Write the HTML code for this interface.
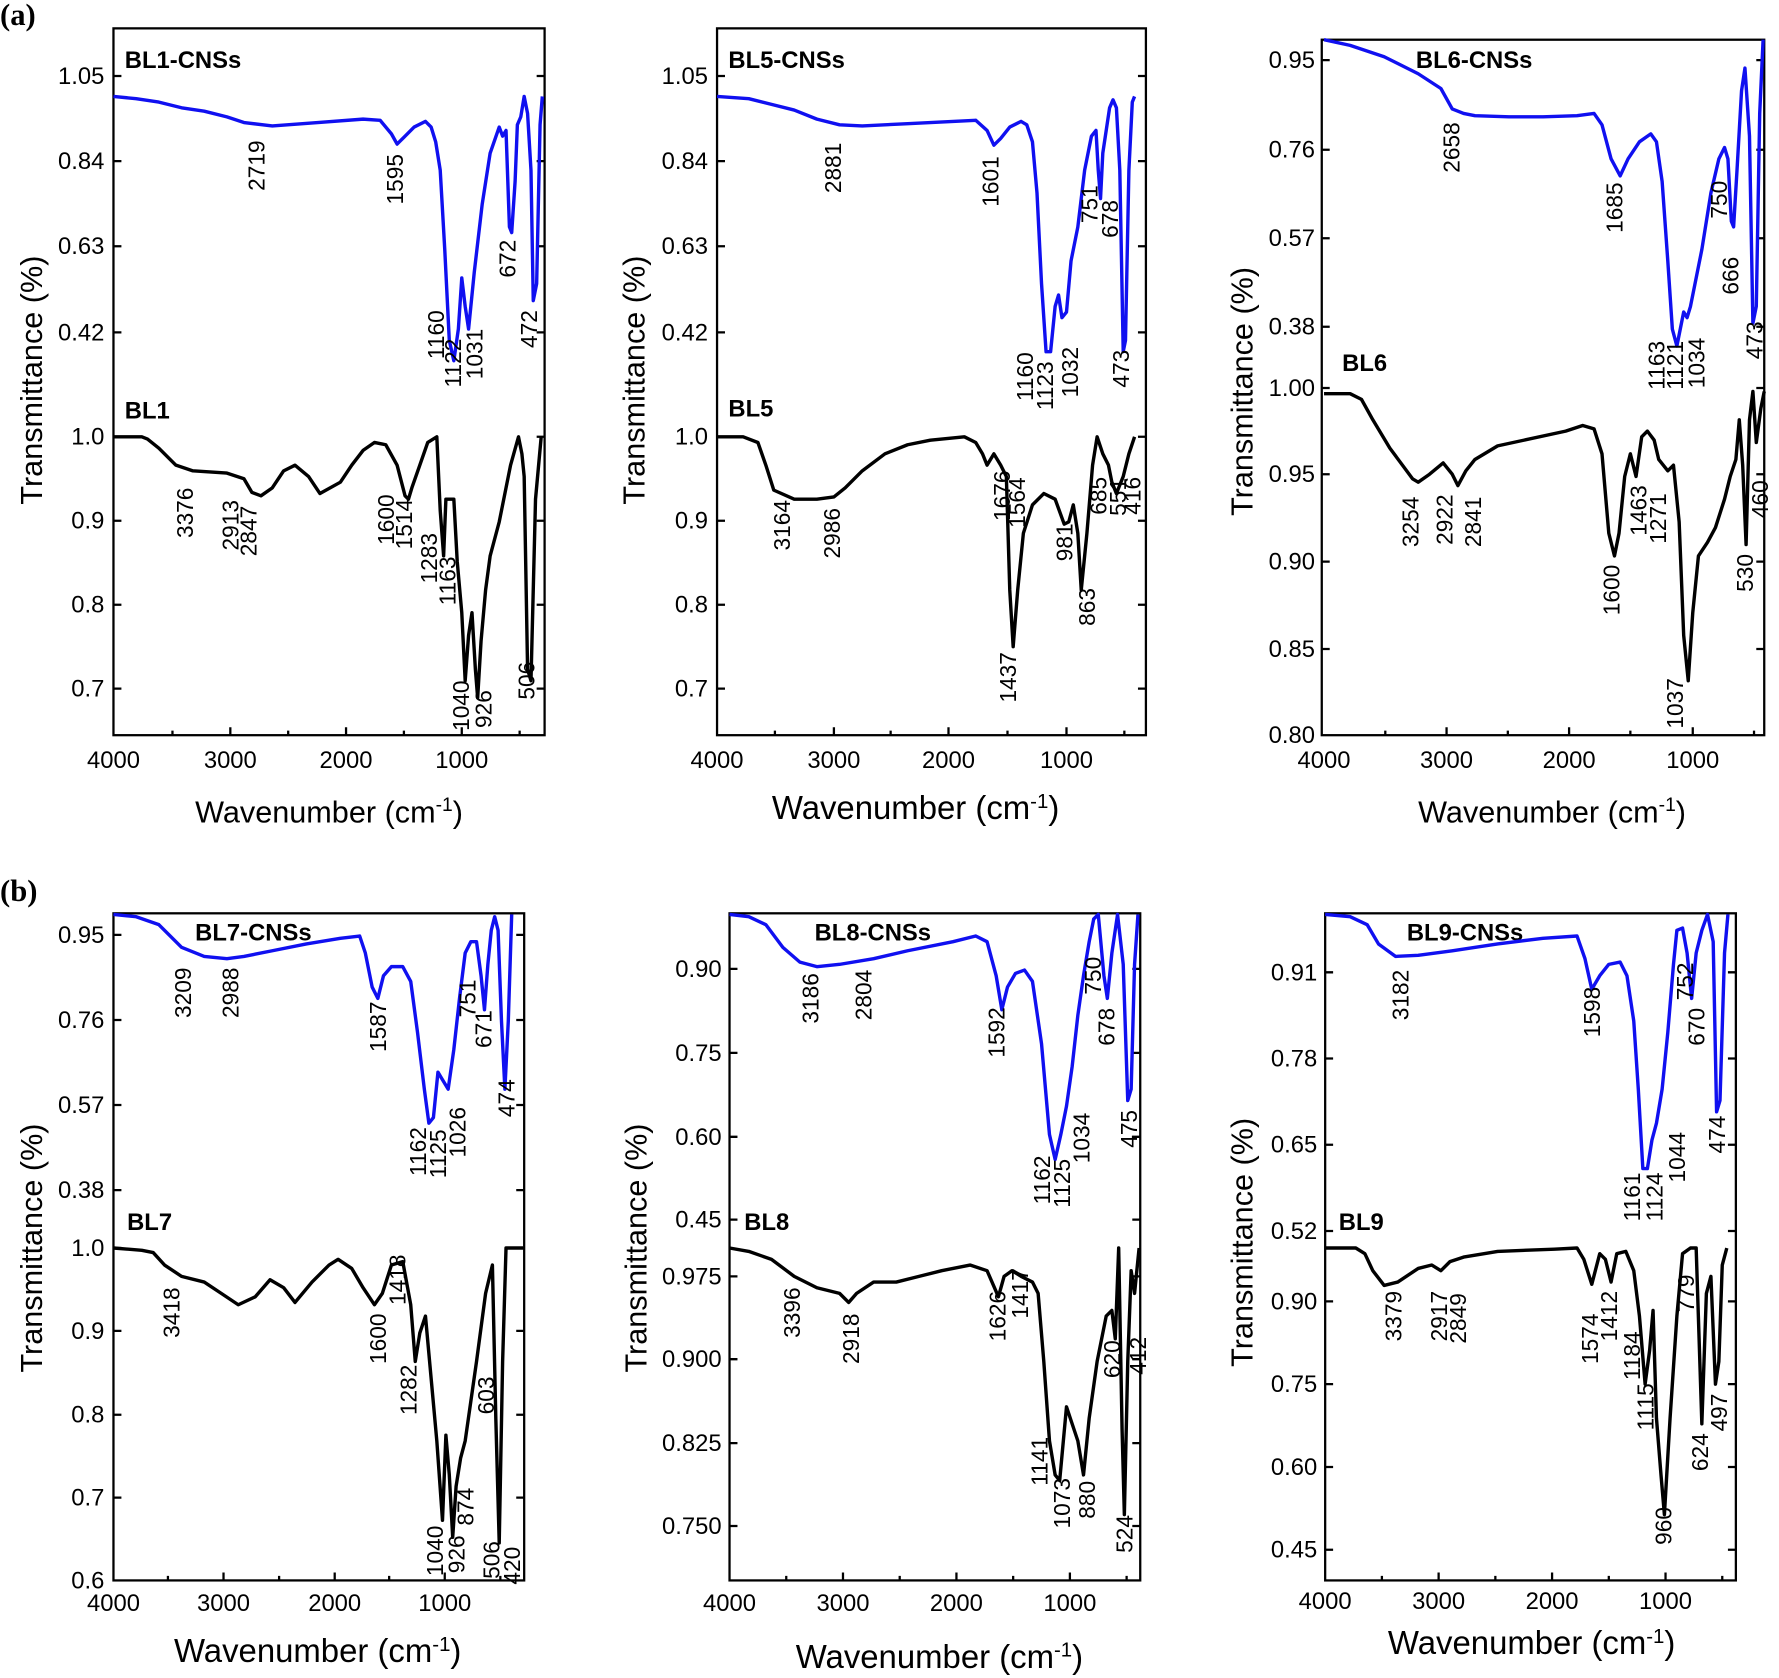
<!DOCTYPE html>
<html><head><meta charset="utf-8"><style>
html,body{margin:0;padding:0;background:#fff}
svg{display:block}
text{font-family:"Liberation Sans",Arial,sans-serif;fill:#000}
.t{font-size:21px}
.p{font-size:20px}
.ti{font-size:21px;font-weight:bold}
.ax{font-size:27px}
.bl{fill:none;stroke:#1010f0;stroke-width:3;stroke-linejoin:round}
.bk{fill:none;stroke:#000;stroke-width:3;stroke-linejoin:round}
.fr{fill:none;stroke:#000;stroke-width:2}
.tk{stroke:#000;stroke-width:2}
</style></head><body>
<svg width="1779" height="1678" viewBox="0 0 1568 1479" xmlns="http://www.w3.org/2000/svg">
<text x="0" y="22" style="font-family:'Liberation Serif',serif;font-weight:bold;font-size:27px">(a)</text>
<text x="0" y="794" style="font-family:'Liberation Serif',serif;font-weight:bold;font-size:27px">(b)</text>

<!-- Panel a1 -->
<rect class="fr" x="100" y="25" width="380" height="623"/>
<g class="tk">
<path d="M100,67h7M100,142h7M100,217h7M100,293h7M100,385h7M100,459h7M100,533h7M100,607h7M480,67h-7M480,142h-7M480,217h-7M480,293h-7M480,385h-7M480,459h-7M480,533h-7M480,607h-7M203,648v-7M305,648v-7M407,648v-7M152,648v-4M254,648v-4M356,648v-4M458,648v-4"/>
</g>
<g class="t" text-anchor="end"><text x="92" y="74">1.05</text><text x="92" y="149">0.84</text><text x="92" y="224">0.63</text><text x="92" y="300">0.42</text><text x="92" y="392">1.0</text><text x="92" y="466">0.9</text><text x="92" y="540">0.8</text><text x="92" y="614">0.7</text></g>
<g class="t" text-anchor="middle"><text x="100" y="677">4000</text><text x="203" y="677">3000</text><text x="305" y="677">2000</text><text x="407" y="677">1000</text></g>
<text class="ax" text-anchor="middle" transform="translate(37,335) rotate(-90)">Transmittance (%)</text>
<text class="ax" x="290" y="725" text-anchor="middle">Wavenumber (cm<tspan dy="-10" font-size="17">-1</tspan><tspan dy="10">)</tspan></text>
<text class="ti" x="110" y="60">BL1-CNSs</text><text class="ti" x="110" y="369">BL1</text>
<polyline class="bl" points="100,85 120,87 140,90 160,95 180,98 200,103 215,108 240,111 280,108 320,105 335,106 345,118 350,127 357,120 365,112 375,107 380,112 384,125 388,150 392,220 396,300 400,318 404,290 407,245 410,270 413,290 418,240 425,180 432,135 440,112 443,120 446,115 449,200 451,205 454,160 456,110 459,103 462,85 465,100 468,150 470,265 473,250 476,110 478,85"/>
<polyline class="bk" points="100,385 125,385 130,387 140,395 155,410 170,415 200,417 215,422 222,434 230,437 240,430 250,415 260,410 272,420 282,435 300,425 310,410 320,397 330,390 340,392 350,410 357,437 360,440 363,430 370,410 377,390 385,385 388,450 391,490 393,440 400,440 403,495 407,540 410,600 413,560 416,540 419,590 421,615 424,565 428,520 432,490 440,460 450,410 457,385 460,400 462,420 465,590 468,600 472,440 477,385"/>
<g class="p" text-anchor="middle" dominant-baseline="middle">
<text transform="translate(228,146) rotate(-90)">2719</text><text transform="translate(350,158) rotate(-90)">1595</text><text transform="translate(386,295) rotate(-90)">1160</text><text transform="translate(401,320) rotate(-90)">1122</text><text transform="translate(420,312) rotate(-90)">1031</text><text transform="translate(449,228) rotate(-90)">672</text><text transform="translate(468,290) rotate(-90)">472</text>
<text transform="translate(165,452) rotate(-90)">3376</text><text transform="translate(205,463) rotate(-90)">2913</text><text transform="translate(221,468) rotate(-90)">2847</text><text transform="translate(342,458) rotate(-90)">1600</text><text transform="translate(358,462) rotate(-90)">1514</text><text transform="translate(380,492) rotate(-90)">1283</text><text transform="translate(396,512) rotate(-90)">1163</text><text transform="translate(408,622) rotate(-90)">1040</text><text transform="translate(428,625) rotate(-90)">926</text><text transform="translate(466,600) rotate(-90)">506</text>
</g>

<!-- Panel a2 -->
<rect class="fr" x="632" y="25" width="378" height="623"/>
<g class="tk"><path d="M632,67h7M632,142h7M632,217h7M632,293h7M632,385h7M632,459h7M632,533h7M632,607h7M1010,67h-7M1010,142h-7M1010,217h-7M1010,293h-7M1010,385h-7M1010,459h-7M1010,533h-7M1010,607h-7M735,648v-7M836,648v-7M940,648v-7M683,648v-4M785,648v-4M888,648v-4M991,648v-4"/></g>
<g class="t" text-anchor="end"><text x="624" y="74">1.05</text><text x="624" y="149">0.84</text><text x="624" y="224">0.63</text><text x="624" y="300">0.42</text><text x="624" y="392">1.0</text><text x="624" y="466">0.9</text><text x="624" y="540">0.8</text><text x="624" y="614">0.7</text></g>
<g class="t" text-anchor="middle"><text x="632" y="677">4000</text><text x="735" y="677">3000</text><text x="836" y="677">2000</text><text x="940" y="677">1000</text></g>
<text class="ax" text-anchor="middle" transform="translate(568,335) rotate(-90)">Transmittance (%)</text>
<text class="ax" x="807" y="722" text-anchor="middle" style="font-size:29px">Wavenumber (cm<tspan dy="-10" font-size="18">-1</tspan><tspan dy="10">)</tspan></text>
<text class="ti" x="642" y="60">BL5-CNSs</text><text class="ti" x="642" y="367">BL5</text>
<polyline class="bl" points="632,85 660,87 680,92 700,97 720,105 740,110 760,111 800,109 840,107 860,106 870,115 876,128 882,122 890,112 900,107 905,110 910,125 914,170 918,250 922,310 926,310 930,270 933,260 936,280 940,275 944,230 950,200 956,150 962,120 966,115 968,150 970,175 972,135 975,115 978,95 981,88 984,95 987,150 990,310 992,300 995,150 998,90 1000,85"/>
<polyline class="bk" points="632,385 655,385 668,390 675,410 682,432 700,440 720,440 735,438 745,430 760,415 780,400 800,392 820,388 850,385 860,390 866,400 870,410 876,400 882,410 887,420 890,520 893,570 897,520 902,470 910,445 920,435 930,440 938,462 942,460 946,445 950,470 953,520 958,470 963,410 967,385 972,400 977,410 980,425 984,435 990,420 995,400 1000,385"/>
<g class="p" text-anchor="middle" dominant-baseline="middle">
<text transform="translate(736,148) rotate(-90)">2881</text><text transform="translate(875,160) rotate(-90)">1601</text><text transform="translate(905,332) rotate(-90)">1160</text><text transform="translate(923,340) rotate(-90)">1123</text><text transform="translate(945,328) rotate(-90)">1032</text><text transform="translate(962,180) rotate(-90)">751</text><text transform="translate(980,193) rotate(-90)">678</text><text transform="translate(990,325) rotate(-90)">473</text>
<text transform="translate(691,463) rotate(-90)">3164</text><text transform="translate(735,470) rotate(-90)">2986</text><text transform="translate(885,437) rotate(-90)">1676</text><text transform="translate(898,443) rotate(-90)">1564</text><text transform="translate(940,478) rotate(-90)">981</text><text transform="translate(960,535) rotate(-90)">863</text><text transform="translate(970,437) rotate(-90)">685</text><text transform="translate(987,438) rotate(-90)">551</text><text transform="translate(1000,437) rotate(-90)">416</text><text transform="translate(890,597) rotate(-90)">1437</text>
</g>

<!-- Panel a3 -->
<rect class="fr" x="1165" y="35" width="390" height="613"/>
<g class="tk"><path d="M1165,53h7M1165,132h7M1165,210h7M1165,288h7M1165,342h7M1165,418h7M1165,495h7M1165,572h7M1555,53h-7M1555,132h-7M1555,210h-7M1555,288h-7M1555,342h-7M1555,418h-7M1555,495h-7M1555,572h-7M1275,648v-7M1383,648v-7M1492,648v-7M1221,648v-4M1329,648v-4M1437,648v-4M1546,648v-4"/></g>
<g class="t" text-anchor="end"><text x="1159" y="60">0.95</text><text x="1159" y="139">0.76</text><text x="1159" y="217">0.57</text><text x="1159" y="295">0.38</text><text x="1159" y="349">1.00</text><text x="1159" y="425">0.95</text><text x="1159" y="502">0.90</text><text x="1159" y="579">0.85</text><text x="1159" y="655">0.80</text></g>
<g class="t" text-anchor="middle"><text x="1167" y="677">4000</text><text x="1275" y="677">3000</text><text x="1383" y="677">2000</text><text x="1492" y="677">1000</text></g>
<text class="ax" text-anchor="middle" transform="translate(1104,345) rotate(-90)">Transmittance (%)</text>
<text class="ax" x="1368" y="725" text-anchor="middle">Wavenumber (cm<tspan dy="-10" font-size="17">-1</tspan><tspan dy="10">)</tspan></text>
<text class="ti" x="1248" y="60">BL6-CNSs</text><text class="ti" x="1183" y="327">BL6</text>
<polyline class="bl" points="1167,35 1190,40 1220,50 1250,65 1270,78 1280,96 1290,100 1300,102 1330,103 1360,103 1390,102 1405,100 1412,110 1420,140 1428,155 1435,140 1445,125 1455,118 1460,125 1465,160 1470,230 1474,290 1478,305 1481,290 1484,275 1487,280 1490,270 1500,220 1508,170 1515,140 1520,130 1523,140 1526,195 1528,200 1531,150 1535,80 1538,60 1542,120 1545,285 1548,270 1551,100 1554,35"/>
<polyline class="bk" points="1167,347 1190,347 1200,352 1210,370 1225,395 1245,422 1250,425 1260,418 1272,408 1280,418 1285,428 1292,415 1300,405 1320,393 1380,380 1395,375 1405,378 1412,400 1418,470 1423,490 1427,470 1432,420 1437,400 1442,420 1447,385 1452,380 1458,388 1462,405 1470,415 1475,410 1480,460 1484,560 1488,600 1492,540 1497,490 1505,478 1512,465 1520,440 1525,420 1530,405 1533,370 1536,410 1539,480 1542,370 1545,345 1548,390 1552,360 1555,345"/>
<g class="p" text-anchor="middle" dominant-baseline="middle">
<text transform="translate(1281,130) rotate(-90)">2658</text><text transform="translate(1425,183) rotate(-90)">1685</text><text transform="translate(1462,322) rotate(-90)">1163</text><text transform="translate(1478,322) rotate(-90)">1121</text><text transform="translate(1497,320) rotate(-90)">1034</text><text transform="translate(1517,176) rotate(-90)">750</text><text transform="translate(1527,243) rotate(-90)">666</text><text transform="translate(1548,300) rotate(-90)">473</text>
<text transform="translate(1245,460) rotate(-90)">3254</text><text transform="translate(1275,458) rotate(-90)">2922</text><text transform="translate(1300,460) rotate(-90)">2841</text><text transform="translate(1422,520) rotate(-90)">1600</text><text transform="translate(1446,450) rotate(-90)">1463</text><text transform="translate(1463,457) rotate(-90)">1271</text><text transform="translate(1478,620) rotate(-90)">1037</text><text transform="translate(1540,505) rotate(-90)">530</text><text transform="translate(1553,440) rotate(-90)">460</text>
</g>

<!-- Panel b1 -->
<rect class="fr" x="100" y="805" width="362" height="588"/>
<g class="tk"><path d="M100,824h7M100,899h7M100,974h7M100,1049h7M100,1100h7M100,1173h7M100,1247h7M100,1320h7M462,824h-7M462,899h-7M462,974h-7M462,1049h-7M462,1100h-7M462,1173h-7M462,1247h-7M462,1320h-7M197,1393v-7M295,1393v-7M392,1393v-7M148,1393v-4M246,1393v-4M343,1393v-4M441,1393v-4"/></g>
<g class="t" text-anchor="end"><text x="92" y="831">0.95</text><text x="92" y="906">0.76</text><text x="92" y="981">0.57</text><text x="92" y="1056">0.38</text><text x="92" y="1107">1.0</text><text x="92" y="1180">0.9</text><text x="92" y="1254">0.8</text><text x="92" y="1327">0.7</text><text x="92" y="1400">0.6</text></g>
<g class="t" text-anchor="middle"><text x="100" y="1420">4000</text><text x="197" y="1420">3000</text><text x="295" y="1420">2000</text><text x="392" y="1420">1000</text></g>
<text class="ax" text-anchor="middle" transform="translate(37,1100) rotate(-90)">Transmittance (%)</text>
<text class="ax" x="280" y="1465" text-anchor="middle" style="font-size:29px">Wavenumber (cm<tspan dy="-10" font-size="18">-1</tspan><tspan dy="10">)</tspan></text>
<text class="ti" x="172" y="829">BL7-CNSs</text><text class="ti" x="112" y="1084">BL7</text>
<polyline class="bl" points="100,806 120,808 140,815 160,835 180,843 200,845 215,843 240,838 270,832 300,827 317,825 322,840 328,870 333,880 338,860 345,852 355,852 362,865 368,910 374,960 378,990 382,985 386,945 389,950 395,960 400,925 405,880 410,840 415,830 420,830 424,860 427,890 430,850 433,820 436,808 439,820 442,900 445,960 448,900 451,806"/>
<polyline class="bk" points="100,1100 125,1102 135,1104 145,1115 160,1125 180,1130 195,1140 210,1150 225,1143 238,1128 250,1135 260,1148 275,1130 290,1115 298,1110 310,1118 320,1135 330,1150 337,1140 345,1115 355,1112 362,1150 366,1200 370,1175 375,1160 380,1215 385,1270 390,1340 393,1265 396,1300 399,1355 402,1310 406,1285 410,1270 420,1200 428,1140 434,1115 437,1250 440,1360 443,1200 446,1100 450,1100 455,1100 461,1100"/>
<g class="p" text-anchor="middle" dominant-baseline="middle">
<text transform="translate(163,875) rotate(-90)">3209</text><text transform="translate(205,875) rotate(-90)">2988</text><text transform="translate(335,905) rotate(-90)">1587</text><text transform="translate(370,1015) rotate(-90)">1162</text><text transform="translate(388,1017) rotate(-90)">1125</text><text transform="translate(405,998) rotate(-90)">1026</text><text transform="translate(414,880) rotate(-90)">751</text><text transform="translate(428,907) rotate(-90)">671</text><text transform="translate(448,968) rotate(-90)">474</text>
<text transform="translate(153,1157) rotate(-90)">3418</text><text transform="translate(335,1180) rotate(-90)">1600</text><text transform="translate(352,1128) rotate(-90)">1418</text><text transform="translate(362,1225) rotate(-90)">1282</text><text transform="translate(385,1367) rotate(-90)">1040</text><text transform="translate(404,1370) rotate(-90)">926</text><text transform="translate(412,1328) rotate(-90)">874</text><text transform="translate(430,1230) rotate(-90)">603</text><text transform="translate(435,1375) rotate(-90)">506</text><text transform="translate(453,1380) rotate(-90)">420</text>
</g>

<!-- Panel b2 -->
<rect class="fr" x="643" y="805" width="362" height="588"/>
<g class="tk"><path d="M643,854h7M643,928h7M643,1002h7M643,1075h7M643,1125h7M643,1198h7M643,1272h7M643,1345h7M1005,854h-7M1005,928h-7M1005,1002h-7M1005,1075h-7M1005,1125h-7M1005,1198h-7M1005,1272h-7M1005,1345h-7M743,1393v-7M843,1393v-7M943,1393v-7M693,1393v-4M793,1393v-4M893,1393v-4M993,1393v-4"/></g>
<g class="t" text-anchor="end"><text x="636" y="861">0.90</text><text x="636" y="935">0.75</text><text x="636" y="1009">0.60</text><text x="636" y="1082">0.45</text><text x="636" y="1132">0.975</text><text x="636" y="1205">0.900</text><text x="636" y="1279">0.825</text><text x="636" y="1352">0.750</text></g>
<g class="t" text-anchor="middle"><text x="643" y="1420">4000</text><text x="743" y="1420">3000</text><text x="843" y="1420">2000</text><text x="943" y="1420">1000</text></g>
<text class="ax" text-anchor="middle" transform="translate(570,1100) rotate(-90)">Transmittance (%)</text>
<text class="ax" x="828" y="1470" text-anchor="middle" style="font-size:29px">Wavenumber (cm<tspan dy="-10" font-size="18">-1</tspan><tspan dy="10">)</tspan></text>
<text class="ti" x="718" y="829">BL8-CNSs</text><text class="ti" x="656" y="1084">BL8</text>
<polyline class="bl" points="643,806 660,808 675,815 690,835 705,848 720,852 740,850 770,845 800,838 840,830 860,825 870,830 878,860 883,890 888,870 895,858 903,855 910,865 918,920 925,1000 930,1022 935,1000 940,975 945,940 950,895 955,860 960,830 964,810 968,806 973,860 976,880 980,840 985,806 990,850 994,970 997,960 1000,850 1003,806"/>
<polyline class="bk" points="643,1100 660,1103 680,1110 700,1125 720,1135 740,1140 748,1148 755,1140 770,1130 790,1130 810,1125 830,1120 855,1115 870,1120 880,1143 885,1125 892,1120 900,1125 910,1130 915,1140 920,1200 925,1270 930,1300 934,1305 940,1240 945,1255 950,1270 955,1300 960,1250 967,1200 975,1160 980,1155 983,1180 986,1100 989,1260 991,1335 994,1200 997,1120 1000,1140 1004,1100"/>
<g class="p" text-anchor="middle" dominant-baseline="middle">
<text transform="translate(716,880) rotate(-90)">3186</text><text transform="translate(763,877) rotate(-90)">2804</text><text transform="translate(880,910) rotate(-90)">1592</text><text transform="translate(920,1040) rotate(-90)">1162</text><text transform="translate(938,1043) rotate(-90)">1125</text><text transform="translate(955,1003) rotate(-90)">1034</text><text transform="translate(965,860) rotate(-90)">750</text><text transform="translate(977,905) rotate(-90)">678</text><text transform="translate(997,995) rotate(-90)">475</text>
<text transform="translate(700,1157) rotate(-90)">3396</text><text transform="translate(752,1180) rotate(-90)">2918</text><text transform="translate(881,1160) rotate(-90)">1626</text><text transform="translate(901,1140) rotate(-90)">1417</text><text transform="translate(918,1288) rotate(-90)">1141</text><text transform="translate(938,1325) rotate(-90)">1073</text><text transform="translate(960,1322) rotate(-90)">880</text><text transform="translate(982,1198) rotate(-90)">620</text><text transform="translate(1005,1195) rotate(-90)">412</text><text transform="translate(993,1352) rotate(-90)">524</text>
</g>

<!-- Panel b3 -->
<rect class="fr" x="1168" y="805" width="362" height="588"/>
<g class="tk"><path d="M1168,857h7M1168,933h7M1168,1009h7M1168,1085h7M1168,1147h7M1168,1220h7M1168,1293h7M1168,1366h7M1530,857h-7M1530,933h-7M1530,1009h-7M1530,1085h-7M1530,1147h-7M1530,1220h-7M1530,1293h-7M1530,1366h-7M1268,1393v-7M1368,1393v-7M1468,1393v-7M1218,1393v-4M1318,1393v-4M1418,1393v-4M1518,1393v-4"/></g>
<g class="t" text-anchor="end"><text x="1161" y="864">0.91</text><text x="1161" y="940">0.78</text><text x="1161" y="1016">0.65</text><text x="1161" y="1092">0.52</text><text x="1161" y="1154">0.90</text><text x="1161" y="1227">0.75</text><text x="1161" y="1300">0.60</text><text x="1161" y="1373">0.45</text></g>
<g class="t" text-anchor="middle"><text x="1168" y="1418">4000</text><text x="1268" y="1418">3000</text><text x="1368" y="1418">2000</text><text x="1468" y="1418">1000</text></g>
<text class="ax" text-anchor="middle" transform="translate(1104,1095) rotate(-90)">Transmittance (%)</text>
<text class="ax" x="1350" y="1458" text-anchor="middle" style="font-size:29px">Wavenumber (cm<tspan dy="-10" font-size="18">-1</tspan><tspan dy="10">)</tspan></text>
<text class="ti" x="1240" y="829">BL9-CNSs</text><text class="ti" x="1180" y="1084">BL9</text>
<polyline class="bl" points="1168,806 1190,808 1205,815 1215,832 1230,843 1250,842 1280,838 1320,832 1360,827 1390,825 1397,845 1403,872 1410,860 1418,850 1428,848 1434,860 1440,900 1444,960 1448,1030 1452,1030 1456,1005 1460,990 1465,960 1470,910 1475,850 1478,820 1483,818 1487,840 1491,880 1495,840 1500,820 1505,806 1510,830 1513,980 1516,970 1520,840 1523,806"/>
<polyline class="bk" points="1168,1100 1195,1100 1203,1105 1210,1120 1220,1133 1232,1130 1250,1118 1262,1115 1270,1120 1278,1112 1290,1108 1320,1103 1370,1101 1390,1100 1396,1110 1403,1132 1410,1105 1415,1110 1420,1130 1425,1105 1433,1103 1440,1120 1445,1160 1450,1220 1454,1190 1457,1155 1460,1250 1464,1300 1467,1335 1472,1250 1478,1160 1483,1105 1490,1100 1495,1100 1500,1255 1504,1140 1508,1125 1512,1220 1515,1200 1518,1115 1522,1100"/>
<g class="p" text-anchor="middle" dominant-baseline="middle">
<text transform="translate(1236,877) rotate(-90)">3182</text><text transform="translate(1405,892) rotate(-90)">1598</text><text transform="translate(1440,1055) rotate(-90)">1161</text><text transform="translate(1460,1055) rotate(-90)">1124</text><text transform="translate(1480,1020) rotate(-90)">1044</text><text transform="translate(1487,865) rotate(-90)">752</text><text transform="translate(1497,905) rotate(-90)">670</text><text transform="translate(1515,1000) rotate(-90)">474</text>
<text transform="translate(1230,1160) rotate(-90)">3379</text><text transform="translate(1270,1160) rotate(-90)">2917</text><text transform="translate(1287,1162) rotate(-90)">2849</text><text transform="translate(1403,1180) rotate(-90)">1574</text><text transform="translate(1420,1160) rotate(-90)">1412</text><text transform="translate(1440,1195) rotate(-90)">1184</text><text transform="translate(1452,1240) rotate(-90)">1115</text><text transform="translate(1468,1345) rotate(-90)">960</text><text transform="translate(1488,1140) rotate(-90)">779</text><text transform="translate(1500,1280) rotate(-90)">624</text><text transform="translate(1517,1245) rotate(-90)">497</text>
</g>
</svg>
</body></html>
